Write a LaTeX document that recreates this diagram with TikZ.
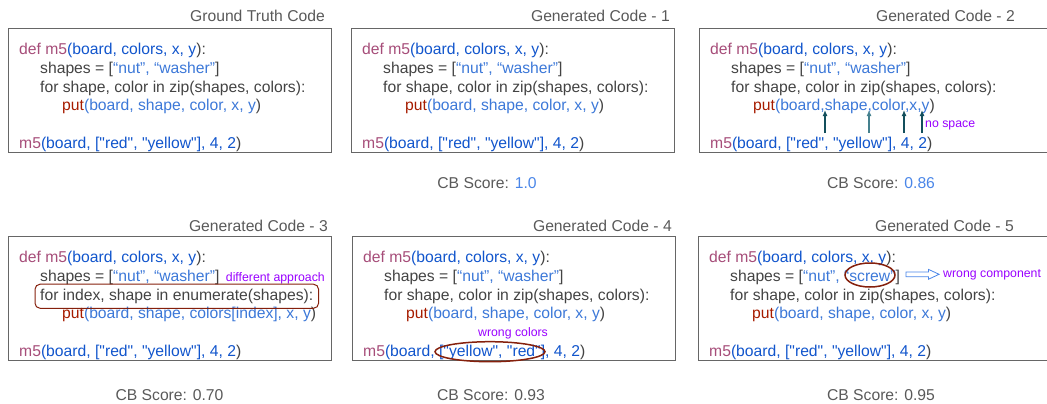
\documentclass[tikz,border=0pt]{standalone}
\usepackage{fontspec}
\setmainfont{Liberation Sans}[Ligatures=TeXOff]
\usetikzlibrary{positioning,fit,shapes.geometric,shapes.arrows,arrows.meta}

\definecolor{fnpink}{HTML}{A64D79}
\definecolor{argdark}{HTML}{1155CC}
\definecolor{arglight}{HTML}{3C78D8}
\definecolor{scoreblue}{HTML}{4A86E8}
\definecolor{codegray}{HTML}{434343}
\definecolor{titlegray}{HTML}{595959}
\definecolor{putred}{HTML}{A61C00}
\definecolor{notevio}{HTML}{9900FF}
\definecolor{markred}{HTML}{85200C}
\definecolor{arrteal}{HTML}{134F5C}
\definecolor{arrlight}{HTML}{45818E}
\definecolor{framegray}{HTML}{666666}

\newcommand{\codefont}{\fontsize{15.7}{18}\selectfont}
\newcommand{\notefont}{\fontsize{12.3}{14}\selectfont}

\newcommand{\defln}{\textcolor{fnpink}{def m5}\textcolor{argdark}{(board, colors, x, y}):}
\newcommand{\shapesln}[1]{shapes = [\textcolor{arglight}{“nut”, “#1”}]}
\newcommand{\forln}{for shape, color in zip(shapes, colors):}
\newcommand{\putln}[1]{\textcolor{putred}{put}\textcolor{arglight}{(#1})}
\newcommand{\callln}[1]{\textcolor{fnpink}{m5}\textcolor{argdark}{(board, [#1], 4, 2})}

\tikzset{
  codebox/.style={draw=framegray, line width=1.2pt, anchor=north west, inner sep=0pt},
  codeline/.style={anchor=base west, inner sep=0pt, font=\codefont, text=codegray},
  ttl/.style={anchor=base east, inner sep=0pt, font=\codefont, text=titlegray},
  score/.style={anchor=base, inner sep=0pt, font=\codefont, text=titlegray},
  note/.style={inner sep=0pt, font=\notefont, text=notevio},
  errmark/.style={draw=markred, line width=1.5pt, inner sep=0pt},
  gaparrow/.style={line width=1.3pt, -{Latex[length=6pt,width=5pt]}}
}

% name, box x, box y, box width, lines 2 to 5
\newcommand{\codepanel}[8]{%
  \node[codebox, minimum width=#4pt, minimum height=123.5pt] (#1) at (#2,#3) {};
  \node[codeline] (#1-a) at (#2+11,#3+26.5) {\defln};
  \node[codeline] (#1-b) at (#2+32,#3+45.3) {#5};
  \node[codeline] (#1-c) at (#2+32,#3+64.3) {#6};
  \node[codeline] (#1-d) at (#2+54,#3+82.9) {#7};
  \node[codeline] (#1-e) at (#2+11,#3+120) {#8};
}

\begin{document}
\begin{tikzpicture}[x=1pt,y=-1pt]
  \useasboundingbox (0,0) rectangle (1047,404);
  \clip (0,0) rectangle (1047,404);

  \codepanel{gt}{8}{28}{323}{\shapesln{washer}}{\forln}{\putln{board, shape, color, x, y}}{\callln{"red", "yellow"}}
  \codepanel{g1}{351}{28}{323}{\shapesln{washer}}{\forln}{\putln{board, shape, color, x, y}}{\callln{"red", "yellow"}}
  \codepanel{g2}{699}{28}{400}{\shapesln{washer}}{\forln}{\putln{board,shape,color,x,y}}{\callln{"red", "yellow"}}
  \codepanel{g3}{8}{236}{323}{\shapesln{washer}}{for index, shape in enumerate(shapes):}{\putln{board, shape, colors[index], x, y}}{\callln{"red", "yellow"}}
  \codepanel{g4}{352}{236}{323}{\shapesln{washer}}{\forln}{\putln{board, shape, color, x, y}}{\callln{"yellow", "red"}}
  \codepanel{g5}{698}{236}{400}{\shapesln{screw}}{\forln}{\putln{board, shape, color, x, y}}{\callln{"red", "yellow"}}

  \node[ttl] (gt-t) at (325,21.7) {Ground Truth Code};
  \node[ttl] (g1-t) at (670,21.7) {Generated Code - 1};
  \node[ttl] (g2-t) at (1015,21.7) {Generated Code - 2};
  \node[ttl] (g3-t) at (328,231.7) {Generated Code - 3};
  \node[ttl] (g4-t) at (672,231.7) {Generated Code - 4};
  \node[ttl] (g5-t) at (1014,231.7) {Generated Code - 5};

  \node[score] (g1-s) at (487,188.3) {CB Score: \textcolor{scoreblue}{1.0}};
  \node[score] (g2-s) at (881,188.3) {CB Score: \textcolor{scoreblue}{0.86}};
  \node[score] (g3-s) at (169.5,400) {CB Score: 0.70};
  \node[score] (g4-s) at (491,400) {CB Score: 0.93};
  \node[score] (g5-s) at (881,400) {CB Score: 0.95};

  \foreach \ax/\ac [count=\i] in {825/arrteal,869/arrlight,904/arrteal,922/arrteal} {
    \coordinate (gapfoot\i) at (\ax,133);
    \coordinate (gap\i) at (\ax,110);
    \draw[gaparrow, \ac] (gapfoot\i) -- (gap\i);
  }
  \node[note, anchor=base west] (nsp) at (925,127.5) {no space};

  \node[note, anchor=base west] (dap) at ([xshift=6pt]g3-b.base east) {different approach};
  \node[errmark, line width=1pt, rounded corners=5pt, fit=(g3-c), inner xsep=5pt, inner ysep=4.5pt] (chg) {};

  \node[errmark, ellipse, minimum width=110pt, minimum height=20pt] (swap) at (490,351.7) {};
  \node[note, anchor=base] (wcol) at (513,336) {wrong colors};

  \node[errmark, ellipse, minimum width=50pt, minimum height=24pt] (scr) at (870,275) {};
  \node[note, anchor=base west] (wcomp) at (943,277) {wrong component};
  \node[single arrow, draw=scoreblue, line width=0.8pt, inner sep=2pt, minimum height=33pt,
        single arrow head extend=2.5pt, single arrow tip angle=50, anchor=tip] (wcarr) at ([xshift=-3pt]wcomp.west) {};
\end{tikzpicture}
\end{document}
